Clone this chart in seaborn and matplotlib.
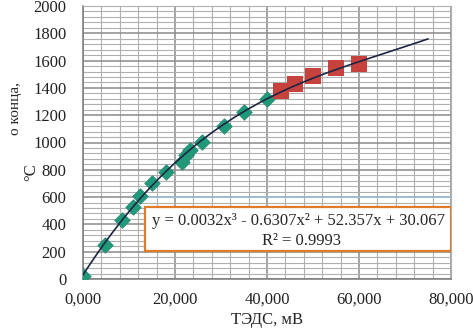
import numpy as np
import pandas as pd
import matplotlib
matplotlib.use("Agg")
import matplotlib.pyplot as plt
from matplotlib.ticker import MultipleLocator, FuncFormatter
from matplotlib.patches import Rectangle
import seaborn as sns

# measured points (ТЭДС, mV -> temperature, °C)
emf_green = [0.0, 4.8, 8.5, 10.9, 12.4, 15.0, 18.0, 21.5, 22.3, 23.3, 25.8, 30.6, 35.0, 40.0]
temp_green = [20, 250, 430, 530, 610, 700, 785, 860, 905, 945, 1005, 1120, 1220, 1320]
emf_red = [43.0, 46.0, 50.0, 55.0, 60.0]
temp_red = [1380, 1430, 1490, 1545, 1575]

# trendline coefficients as printed on the chart (x^3, x^2, x, 1)
trend_coef = [0.0032, -0.6307, 52.357, 30.067]
trend_end = 75
eq_text = "y = 0.0032x³ - 0.6307x² + 52.357x + 30.067"
r2_text = "R² = 0.9993"

sns.set_style("white")
plt.rcParams["font.family"] = ["Liberation Serif", "DejaVu Serif"]

fs = 12

fig = plt.figure(figsize=(4.73, 3.28), dpi=100)
ax = fig.add_axes([83 / 473, 1 - 279 / 328, (451 - 83) / 473, (279 - 6) / 328])

trend_x = np.linspace(0, trend_end, 200)
trend = pd.DataFrame({"x": trend_x, "y": np.polyval(trend_coef, trend_x)})

sns.scatterplot(x=emf_green, y=temp_green, marker="D", s=62, color="#1f9a78",
                edgecolor="#2a8c74", linewidth=0.6, ax=ax, zorder=3)
sns.scatterplot(x=emf_red, y=temp_red, marker="s", s=140, color="#c8423d",
                edgecolor="#c8423d", linewidth=0, ax=ax, zorder=3)
sns.lineplot(data=trend, x="x", y="y", color="#1d2545", linewidth=1.2, ax=ax, zorder=4)

ax.set_xlim(0, 80)
ax.set_ylim(0, 2000)
ax.xaxis.set_major_locator(MultipleLocator(20))
ax.xaxis.set_minor_locator(MultipleLocator(4))
ax.yaxis.set_major_locator(MultipleLocator(200))
ax.yaxis.set_minor_locator(MultipleLocator(40))
ax.xaxis.set_major_formatter(FuncFormatter(lambda v, p: f"{v:.3f}".replace(".", ",")))
ax.grid(which="major", color="#8a8a8a", linewidth=1.1)
ax.grid(which="minor", color="#b0b0b0", linewidth=0.8)
ax.set_axisbelow(True)
ax.tick_params(which="both", length=0, labelsize=fs, colors="#222222")
ax.tick_params(axis="x", pad=9)
ax.tick_params(axis="y", pad=12)
for side in ["top", "right"]:
    ax.spines[side].set_color("#b0b0b0")
for side in ["left", "bottom"]:
    ax.spines[side].set_color("#7a7a7a")
    ax.spines[side].set_linewidth(1.1)

ax.set_xlabel("ТЭДС, мВ", fontsize=fs, labelpad=3)
ax.set_ylabel("")

# equation box
ax.plot([13.5, 80], [600, 600], color="#9cc3e0", linewidth=1.2, zorder=2)
ax.add_patch(Rectangle((13.5, 204), 66.5, 321, facecolor="white",
                       edgecolor="#e07b28", linewidth=1.6, zorder=5))
ax.text(46.8, 425, eq_text, ha="center", va="center", fontsize=fs, zorder=6)
ax.text(47.5, 280, r2_text, ha="center", va="center", fontsize=fs, zorder=6)

# remains of the y axis title
fig.text(16 / 473, 1 - 108 / 328, "о конца,", rotation=90, ha="center", va="center", fontsize=11)
fig.text(31 / 473, 1 - 172 / 328, "°C", rotation=90, ha="center", va="center", fontsize=fs)

fig.savefig("out.png", dpi=100)
